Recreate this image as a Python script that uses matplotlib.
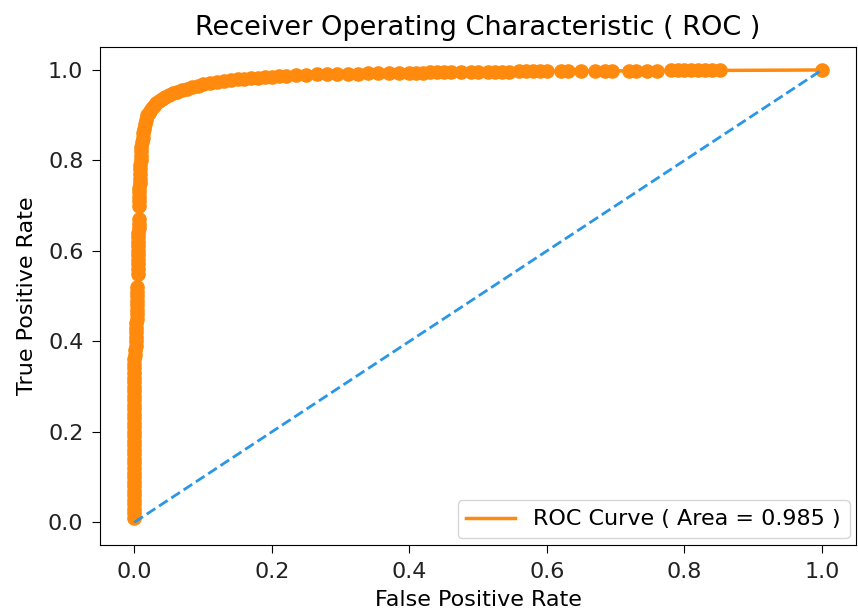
import matplotlib
matplotlib.use("Agg")
import matplotlib.pyplot as plt

fpr = [0.0, 0.0, 0.0, 0.0, 0.0, 0.0, 0.0, 0.0, 0.0, 0.0,
       0.0, 0.0, 0.0, 0.0, 0.0, 0.0, 0.0, 0.0, 0.0, 0.0,
       0.0, 0.0, 0.0, 0.0, 0.0, 0.0, 0.0, 0.0, 0.0, 0.0,
       0.0, 0.0, 0.0, 0.0, 0.0, 0.0, 0.001, 0.001,
       0.003, 0.003, 0.003, 0.003, 0.003, 0.003, 0.004, 0.004, 0.004, 0.004, 0.004, 0.004, 0.004, 0.004,
       0.005, 0.005, 0.005, 0.005, 0.005, 0.005, 0.005, 0.005, 0.005, 0.005, 0.006, 0.006, 0.006,
       0.007, 0.007, 0.007, 0.007, 0.007, 0.008, 0.008, 0.008, 0.008, 0.008,
       0.009, 0.009, 0.010, 0.010, 0.011, 0.012, 0.013, 0.014, 0.015, 0.017, 0.019,
       0.021, 0.023, 0.026, 0.029, 0.032, 0.036, 0.040, 0.045, 0.050, 0.056,
       0.062, 0.069, 0.076, 0.084, 0.092, 0.100, 0.110, 0.120, 0.130, 0.140,
       0.150, 0.160, 0.170, 0.180, 0.190, 0.200, 0.210, 0.220, 0.235, 0.250,
       0.265, 0.280, 0.295, 0.310, 0.325, 0.340, 0.355, 0.370, 0.385, 0.400,
       0.410, 0.420, 0.430, 0.440, 0.450, 0.460, 0.475, 0.490, 0.500, 0.515,
       0.525, 0.535, 0.545, 0.560, 0.570, 0.580, 0.590, 0.600, 0.620, 0.630,
       0.650, 0.670, 0.685, 0.695, 0.720, 0.730, 0.745, 0.760, 0.780, 0.790,
       0.800, 0.810, 0.820, 0.830, 0.840, 0.852, 1.0]

tpr = [0.01, 0.02, 0.03, 0.04, 0.05, 0.06, 0.07, 0.08, 0.09, 0.10,
       0.11, 0.12, 0.13, 0.14, 0.15, 0.16, 0.17, 0.18, 0.19, 0.20,
       0.21, 0.22, 0.23, 0.24, 0.25, 0.26, 0.27, 0.28, 0.29, 0.30,
       0.31, 0.32, 0.33, 0.34, 0.35, 0.36, 0.37, 0.38,
       0.39, 0.40, 0.41, 0.42, 0.43, 0.44, 0.45, 0.46, 0.47, 0.48, 0.49, 0.50, 0.51, 0.52,
       0.55, 0.56, 0.57, 0.58, 0.59, 0.60, 0.61, 0.62, 0.63, 0.64, 0.65, 0.66, 0.67,
       0.70, 0.71, 0.72, 0.73, 0.74, 0.75, 0.76, 0.77, 0.78, 0.79,
       0.80, 0.81, 0.82, 0.83, 0.84, 0.85, 0.86, 0.87, 0.88, 0.89, 0.90,
       0.905, 0.910, 0.916, 0.921, 0.926, 0.931, 0.935, 0.940, 0.944, 0.948,
       0.952, 0.956, 0.959, 0.962, 0.965, 0.968, 0.971, 0.973, 0.975, 0.977,
       0.979, 0.980, 0.982, 0.983, 0.984, 0.985, 0.986, 0.987, 0.988, 0.989,
       0.990, 0.990, 0.991, 0.992, 0.992, 0.993, 0.993, 0.993, 0.994, 0.994,
       0.994, 0.994, 0.995, 0.995, 0.995, 0.995, 0.995, 0.996, 0.996, 0.996,
       0.996, 0.996, 0.996, 0.997, 0.997, 0.997, 0.997, 0.997, 0.997, 0.997,
       0.997, 0.998, 0.998, 0.998, 0.998, 0.998, 0.998, 0.998, 0.999, 0.999,
       0.999, 0.999, 0.999, 0.999, 0.999, 0.999, 1.0]

chance_x = [0.0, 1.0]
chance_y = [0.0, 1.0]

roc_auc = 0.985
orange = '#ff8a0d'
blue = '#2a96e6'

fig = plt.figure(figsize=(8.58, 6.15), dpi=100)
ax = fig.add_axes([0.1166, 0.114, 0.8814, 0.809])

ax.plot(fpr, tpr, color=orange, lw=2.5, label='ROC Curve ( Area = %0.3f )' % roc_auc)
ax.plot(fpr, tpr, color=orange, lw=0, marker='o', markersize=9.5)
ax.plot(chance_x, chance_y, color=blue, lw=2, linestyle='--')

ax.set_title('Receiver Operating Characteristic ( ROC )', fontsize=19.5, pad=9)
ax.set_xlabel('False Positive Rate', fontsize=16, labelpad=6)
ax.set_ylabel('True Positive Rate', fontsize=16, labelpad=8)
ax.tick_params(labelsize=16, length=6, pad=6)
for lbl in ax.get_xticklabels() + ax.get_yticklabels():
    lbl.set_color('#222222')
ax.legend(loc='lower right', fontsize=16, handlelength=2.2, borderaxespad=0.3)

fig.savefig('out.png', dpi=100)
